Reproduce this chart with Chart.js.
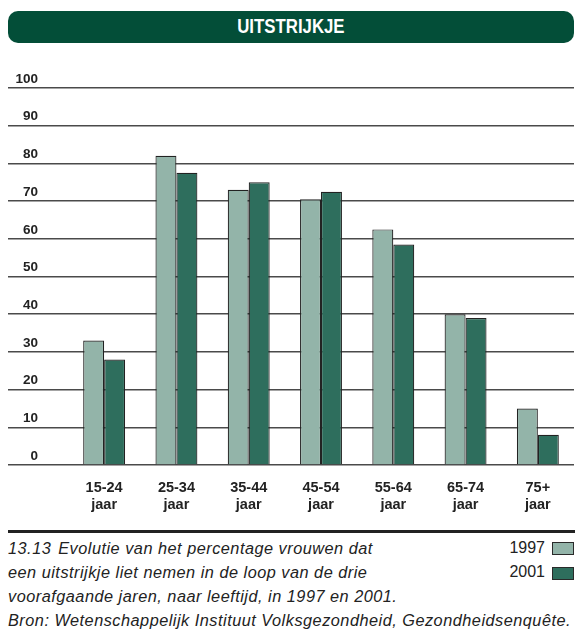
<!DOCTYPE html>
<html>
<head>
<meta charset="utf-8">
<script src="https://cdn.jsdelivr.net/npm/chart.js@4.4.1/dist/chart.umd.min.js"></script>
<style>
  html, body { margin: 0; padding: 0; background: #fff; }
  body { width: 576px; height: 635px; position: relative; overflow: hidden; }
  #banner { position: absolute; left: 8px; top: 11px; width: 566px; height: 32px; border-radius: 10px;
    background: #034e38; color: #fff; text-align: center; line-height: 33px; }
  #banner span { display: inline-block; transform: scaleX(0.84); font: bold 20px 'Liberation Sans', Arial, sans-serif; }
  #wrap { position: absolute; left: 0; top: 0; width: 576px; height: 530px; }
  #rule { position: absolute; left: 8px; top: 530px; width: 567px; height: 3px; background: #222; }
  .cap { position: absolute; left: 8px; font: italic 16.3px 'Liberation Sans', Arial, sans-serif; letter-spacing: 0.5px; color: #222; white-space: nowrap; }
  .leg { position: absolute; right: 31px; font: 16px 'Liberation Sans', Arial, sans-serif; color: #222; }
  .sw { position: absolute; left: 552px; width: 20px; height: 11px; border: 1px solid #2a2a2a; }
</style>
</head>
<body>
<div id="banner"><span>UITSTRIJKJE</span></div>
<div id="wrap"><canvas id="c" width="576" height="530"></canvas></div>
<div id="rule"></div>
<div class="cap" style="top:539px">13.13<span style="margin-left:7px">Evolutie van het percentage vrouwen dat</span></div>
<div class="cap" style="top:563px">een uitstrijkje liet nemen in de loop van de drie</div>
<div class="cap" style="top:587px">voorafgaande jaren, naar leeftijd, in 1997 en 2001.</div>
<div class="cap" style="top:611px">Bron: Wetenschappelijk Instituut Volksgezondheid, Gezondheidsenquête.</div>
<div class="leg" style="top:539px">1997</div>
<div class="leg" style="top:563px">2001</div>
<div class="sw" style="top:542px;background:#93b4a9"></div>
<div class="sw" style="top:567px;background:#2e6e5d"></div>
<script>
const categories = [['15-24','jaar'],['25-34','jaar'],['35-44','jaar'],['45-54','jaar'],['55-64','jaar'],['65-74','jaar'],['75+','jaar']];
const series1997 = [33, 82, 73, 70.5, 62.5, 40, 15];
const series2001 = [28, 77.5, 75, 72.5, 58.5, 39, 8];
const yTicks = [0, 10, 20, 30, 40, 50, 60, 70, 80, 90, 100];

const sans = "'Liberation Sans', Arial, sans-serif";

new Chart(document.getElementById('c'), {
  type: 'bar',
  data: {
    labels: categories,
    datasets: [
      { label: '1997', data: series1997, backgroundColor: '#93b4a9', borderColor: '#222', borderWidth: 1.2 },
      { label: '2001', data: series2001, backgroundColor: '#2e6e5d', borderColor: '#222', borderWidth: 1.2 }
    ]
  },
  options: {
    responsive: false,
    animation: false,
    events: [],
    layout: { padding: { left: 8, right: 2, top: 88, bottom: 0 } },
    plugins: { legend: { display: false }, tooltip: { enabled: false }, title: { display: false } },
    datasets: { bar: { categoryPercentage: 0.58, barPercentage: 1.0 } },
    scales: {
      x: {
        grid: { display: false, drawTicks: false },
        border: { display: false },
        ticks: { padding: 15, color: '#222', font: { family: sans, weight: 'bold', size: 14.5, lineHeight: 1.17 }, maxRotation: 0, autoSkip: false },
        afterFit: s => { s.height = 65; }
      },
      y: {
        min: 0, max: 100,
        afterBuildTicks: s => { s.ticks = yTicks.map(v => ({ value: v })); },
        grid: { color: '#4a4a4a', lineWidth: 1.6, drawTicks: true, tickLength: 60 },
        border: { display: false },
        ticks: { padding: -30, labelOffset: -9, color: '#222', font: { family: sans, weight: 'bold', size: 13.5 } },
        afterFit: s => { s.width = 60; }
      }
    }
  }
});
</script>
</body>
</html>
